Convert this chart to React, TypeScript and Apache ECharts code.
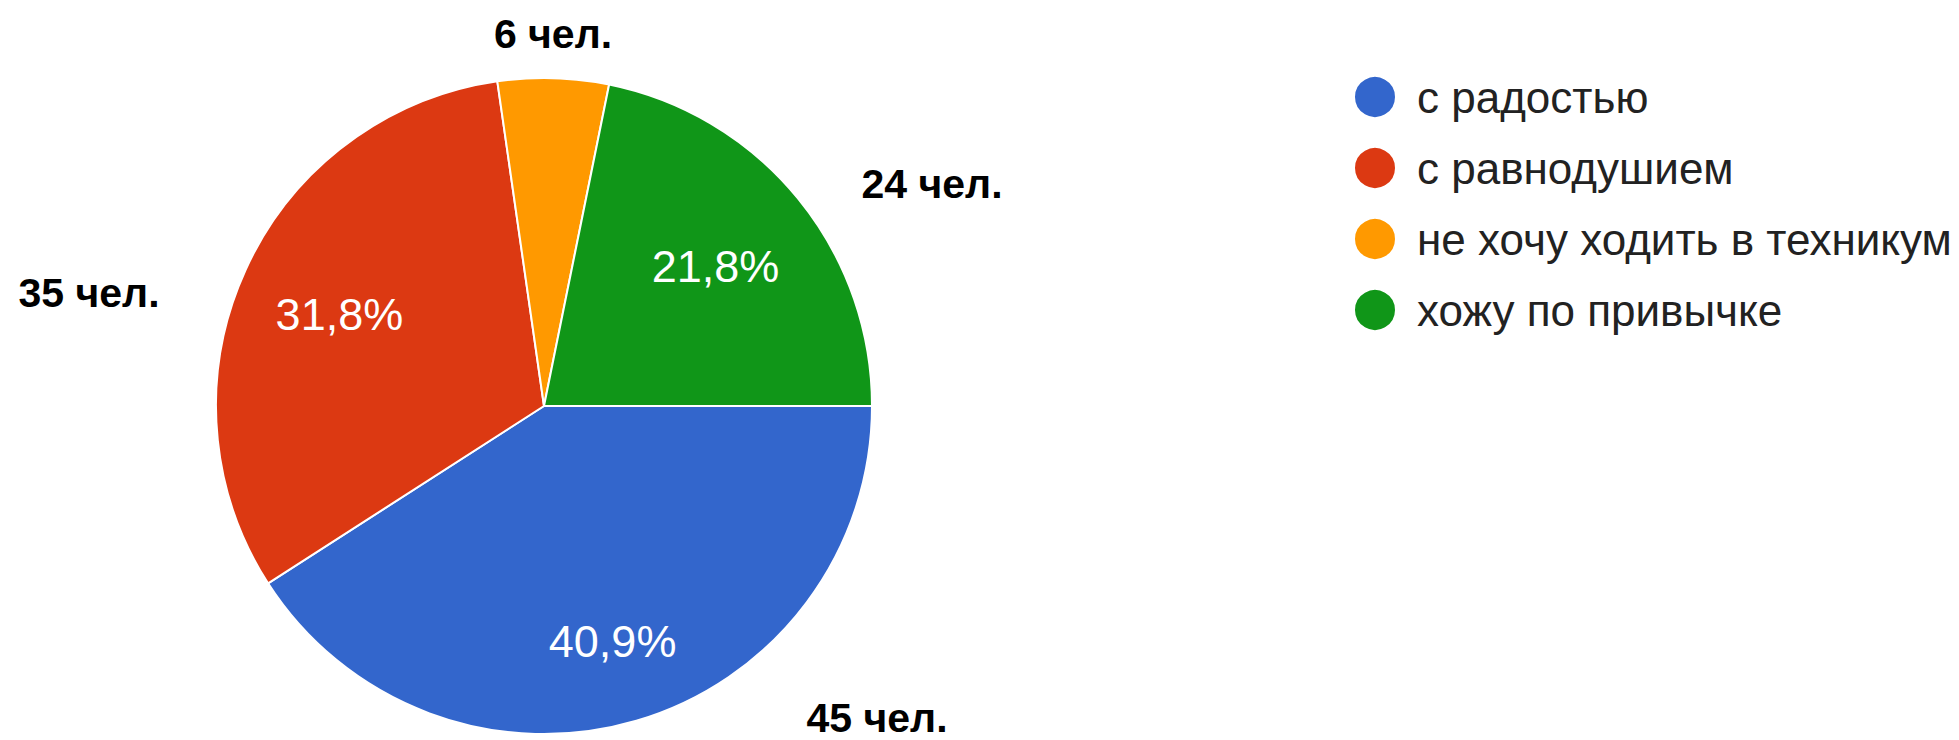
import React, { useEffect, useRef } from "react";
import * as echarts from "echarts";

const categories = ["с радостью", "с равнодушием", "не хочу ходить в техникум", "хожу по привычке"];
const counts = [45, 35, 6, 24];
const colors = ["#3366CC", "#DC3912", "#FF9900", "#109618"];
const countLabels = ["45 чел.", "35 чел.", "6 чел.", "24 чел."];
// placement of the annotation texts (pixels in the chart)
const countLabelPos: [number, number][] = [
  [877, 718],
  [89, 293],
  [553, 34],
  [932, 184],
];
// small nudges of the percentage labels (pixels)
const pctNudge: [number, number][] = [
  [4, 15],
  [4, 4],
  [0, 0],
  [-6, 6],
];

const CX = 544;
const CY = 406;
const R = 328;

export default function App() {
  const ref = useRef<HTMLDivElement>(null);
  useEffect(() => {
    if (!ref.current) return;
    const chart = echarts.init(ref.current, undefined, { renderer: "svg" });
    const data = categories.map((name, i) => ({
      name,
      value: counts[i],
      itemStyle: { color: colors[i] },
    }));
    chart.setOption({
      animation: false,
      backgroundColor: "#ffffff",
      legend: {
        orient: "vertical",
        left: 1348,
        top: 70,
        icon: "circle",
        itemWidth: 42,
        itemHeight: 42,
        itemGap: 27,
        selectedMode: false,
        data: categories.map((name, i) => ({ name, itemStyle: { color: colors[i] } })),
        textStyle: {
          fontFamily: "Liberation Sans, Arial, sans-serif",
          fontSize: 44,
          color: "#222222",
          lineHeight: 42,
          padding: [0, 0, 0, 16],
        },
      },
      series: [
        {
          type: "pie",
          center: [CX, CY],
          radius: [0, R],
          startAngle: 0,
          clockwise: true,
          silent: true,
          data: data.map((d, i) => ({ ...d, label: { formatter: countLabels[i] } })),
          itemStyle: { borderColor: "#ffffff", borderWidth: 2 },
          label: {
            show: true,
            position: "outside",
            fontFamily: "Liberation Sans, Arial, sans-serif",
            fontWeight: "bold",
            fontSize: 41,
            lineHeight: 36,
            color: "#000000",
          },
          labelLine: { show: false },
          labelLayout: (params: any) => {
            const p = countLabelPos[params.dataIndex];
            return { x: p[0], y: p[1], align: "center", verticalAlign: "middle" };
          },
        },
        {
          type: "pie",
          center: [CX, CY],
          radius: [R * 0.38, R],
          startAngle: 0,
          clockwise: true,
          silent: true,
          data: categories.map((name, i) => ({ name, value: counts[i] })),
          itemStyle: { color: "rgba(0,0,0,0)", borderWidth: 0 },
          label: {
            show: true,
            position: "inside",
            fontFamily: "Liberation Sans, Arial, sans-serif",
            fontSize: 45,
            color: "#ffffff",
            formatter: (p: any) =>
              p.percent < 10 ? "" : p.percent.toFixed(1).replace(".", ",") + "%",
          },
          labelLine: { show: false },
          labelLayout: (params: any) => {
            const n = pctNudge[params.dataIndex];
            return { dx: n[0], dy: n[1] };
          },
        },
      ],
    });
    return () => chart.dispose();
  }, []);
  return (
    <div
      ref={ref}
      style={{ position: "fixed", left: 0, top: 0, width: 1959, height: 740, background: "#fff" }}
    />
  );
}
